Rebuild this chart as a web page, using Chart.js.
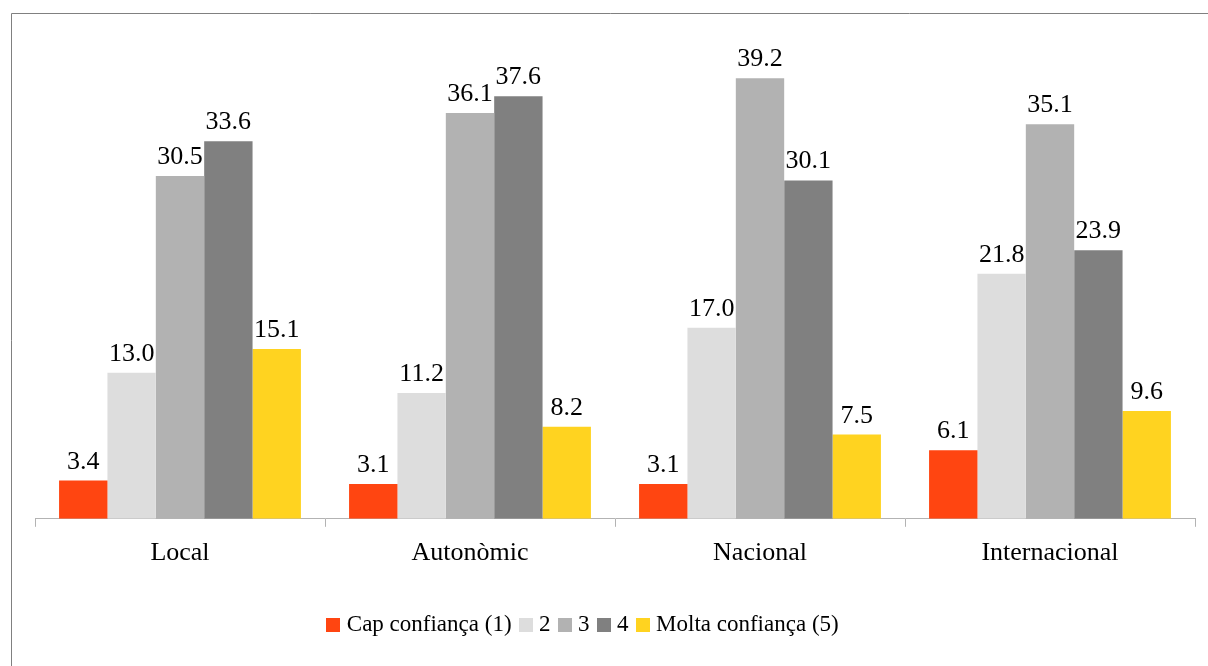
<!DOCTYPE html>
<html><head><meta charset="utf-8">
<script src="https://cdn.jsdelivr.net/npm/chart.js@4/dist/chart.umd.min.js"></script>
<style>html,body{margin:0;padding:0;background:#fff;}#wrap{width:1208px;height:666px;position:relative;}</style>
</head><body><div id="wrap"><canvas id="c" width="1208" height="666"></canvas></div>
<script>
const categories = ["Local", "Autonòmic", "Nacional", "Internacional"];
const seriesNames = ["Cap confiança (1)", "2", "3", "4", "Molta confiança (5)"];
const s1 = [3.4, 3.1, 3.1, 6.1];
const s2 = [13.0, 11.2, 17.0, 21.8];
const s3 = [30.5, 36.1, 39.2, 35.1];
const s4 = [33.6, 37.6, 30.1, 23.9];
const s5 = [15.1, 8.2, 7.5, 9.6];
const colors = ["#FF4511", "#DDDDDD", "#B2B2B2", "#808080", "#FFD320"];
const allSeries = [s1, s2, s3, s4, s5];

const FONT = "'Liberation Serif', 'Times New Roman', serif";

function swatch(color) {
  const cv = document.createElement('canvas');
  cv.width = 14; cv.height = 14;
  const g = cv.getContext('2d');
  g.fillStyle = color;
  g.fillRect(0, 0, 14, 14);
  return cv;
}

const framePlugin = {
  id: 'frame',
  beforeDraw(chart) {
    const ctx = chart.ctx;
    ctx.save();
    ctx.fillStyle = '#fff';
    ctx.fillRect(0, 0, chart.width, chart.height);
    ctx.strokeStyle = '#808080';
    ctx.lineWidth = 1;
    ctx.beginPath();
    ctx.moveTo(11.5, chart.height + 2);
    ctx.lineTo(11.5, 13.5);
    ctx.lineTo(chart.width + 2, 13.5);
    ctx.stroke();
    ctx.restore();
  }
};

const legendShift = {
  id: 'legendShift',
  afterLayout(chart) {
    if (chart.legend) {
      chart.legend.left -= 30;
      chart.legend.right -= 30;
    }
  }
};

const valueLabels = {
  id: 'valueLabels',
  afterDatasetsDraw(chart) {
    const ctx = chart.ctx;
    ctx.save();
    ctx.font = "26px " + FONT;
    ctx.fillStyle = '#000';
    ctx.textAlign = 'center';
    ctx.textBaseline = 'alphabetic';
    chart.data.datasets.forEach((ds, i) => {
      const meta = chart.getDatasetMeta(i);
      meta.data.forEach((bar, j) => {
        ctx.fillText(ds.data[j].toFixed(1), bar.x, bar.y - 12);
      });
    });
    ctx.restore();
  }
};

new Chart(document.getElementById('c'), {
  type: 'bar',
  data: {
    labels: categories,
    datasets: allSeries.map((d, i) => ({
      label: seriesNames[i],
      data: d,
      backgroundColor: colors[i],
      borderWidth: 0,
      pointStyle: swatch(colors[i]),
      categoryPercentage: 0.834,
      barPercentage: 1.0
    }))
  },
  options: {
    responsive: false,
    animation: false,
    devicePixelRatio: 1,
    layout: { padding: { top: 13, left: 35, right: 13, bottom: 20 } },
    plugins: {
      tooltip: { enabled: false },
      legend: {
        position: 'bottom',
        labels: {
          font: { family: FONT, size: 23 },
          color: '#000',
          usePointStyle: true,
          pointStyleWidth: 4,
          boxWidth: 14,
          boxHeight: 14,
          padding: 12
        }
      }
    },
    scales: {
      y: { display: false, min: 0, max: 45 },
      x: {
        offset: true,
        afterFit: (scale) => { scale.height += 21; },
        grid: { offset: true, drawOnChartArea: false, drawTicks: true, tickLength: 8, color: '#B3B3B3' },
        border: { color: '#B3B3B3', width: 1 },
        ticks: { font: { family: FONT, size: 26 }, color: '#000', padding: 11 }
      }
    }
  },
  plugins: [framePlugin, legendShift, valueLabels]
});
</script>
</body></html>
